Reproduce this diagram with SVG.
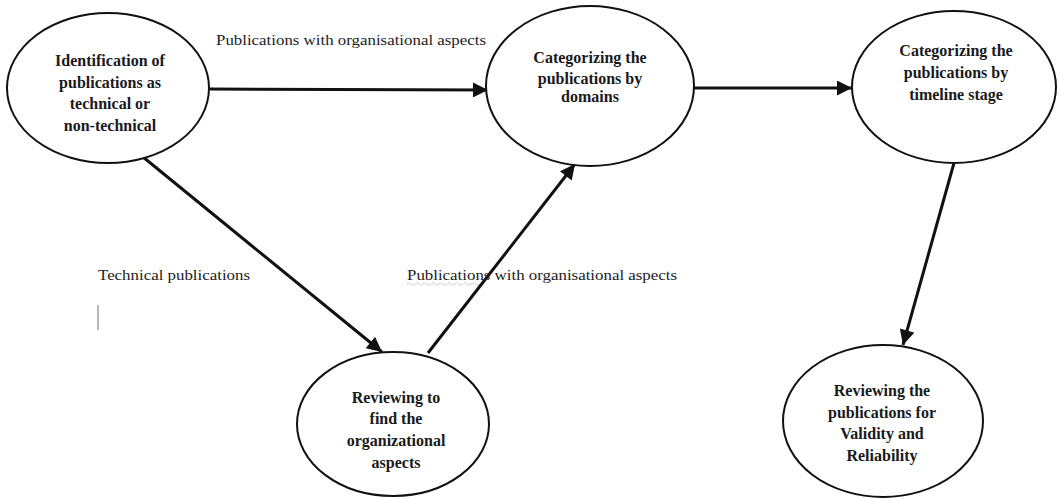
<svg xmlns="http://www.w3.org/2000/svg" width="1059" height="499" viewBox="0 0 1059 499">
<style>
.node ellipse{fill:#fff;stroke:#111;stroke-width:2}
.nt{font-family:"Liberation Serif",serif;font-weight:bold;font-size:16px;fill:#1a1a1a;text-anchor:middle}
.lbl{font-family:"Liberation Serif",serif;font-size:15px;fill:#222}
.conn line{stroke:#111;stroke-width:3}
</style>
<defs>
<marker id="ah" viewBox="0 0 10 10" refX="10" refY="5" markerWidth="5.5" markerHeight="5" orient="auto" markerUnits="strokeWidth">
<path d="M0,0 L10,5 L0,10 z" fill="#111"/>
</marker>
</defs>
<rect width="1059" height="499" fill="#fff"/>
<g id="connectors" class="conn">
<line x1="210" y1="89" x2="488" y2="90" marker-end="url(#ah)"/>
<line x1="694" y1="88" x2="852" y2="88" marker-end="url(#ah)"/>
<line x1="143" y1="157" x2="382" y2="352" marker-end="url(#ah)"/>
<line x1="428" y1="353" x2="575" y2="164" marker-end="url(#ah)"/>
<line x1="954" y1="163" x2="903" y2="345" marker-end="url(#ah)"/>
</g>
<g id="n1" class="node">
<ellipse cx="108" cy="88" rx="101" ry="75"/>
<text class="nt" x="110" y="66">Identification of</text>
<text class="nt" x="110" y="88">publications as</text>
<text class="nt" x="110" y="109">technical or</text>
<text class="nt" x="110" y="131">non-technical</text>
</g>
<g id="n2" class="node">
<ellipse cx="590" cy="86" rx="104" ry="80"/>
<text class="nt" x="590" y="63">Categorizing the</text>
<text class="nt" x="590" y="84">publications by</text>
<text class="nt" x="590" y="102">domains</text>
</g>
<g id="n3" class="node">
<ellipse cx="954" cy="87" rx="102" ry="76"/>
<text class="nt" x="956" y="56">Categorizing the</text>
<text class="nt" x="956" y="78">publications by</text>
<text class="nt" x="956" y="100">timeline stage</text>
</g>
<g id="n4" class="node">
<ellipse cx="393" cy="424" rx="96" ry="72"/>
<text class="nt" x="396" y="403">Reviewing to</text>
<text class="nt" x="396" y="424">find the</text>
<text class="nt" x="396" y="446">organizational</text>
<text class="nt" x="396" y="468">aspects</text>
</g>
<g id="n5" class="node">
<ellipse cx="883" cy="421" rx="100" ry="76"/>
<text class="nt" x="882" y="396">Reviewing the</text>
<text class="nt" x="882" y="418">publications for</text>
<text class="nt" x="882" y="439">Validity and</text>
<text class="nt" x="882" y="461">Reliability</text>
</g>
<g id="labels">
<text class="lbl" x="216" y="45" textLength="270" lengthAdjust="spacingAndGlyphs">Publications with organisational aspects</text>
<text class="lbl" x="98" y="280" textLength="152" lengthAdjust="spacingAndGlyphs">Technical publications</text>
<text class="lbl" x="407" y="280" textLength="270" lengthAdjust="spacingAndGlyphs">Publications with organisational aspects</text>
<path d="M407,284 q2,-2 4,0 t4,0 t4,0 t4,0 t4,0 t4,0 t4,0 t4,0 t4,0 t4,0 t4,0 t4,0 t4,0 t4,0 t4,0 t4,0 t4,0 t4,0" fill="none" stroke="#888" stroke-width="0.8" stroke-dasharray="1,1"/>
<line x1="98" y1="305" x2="98" y2="330" stroke="#888" stroke-width="1.2"/>
</g>
</svg>
